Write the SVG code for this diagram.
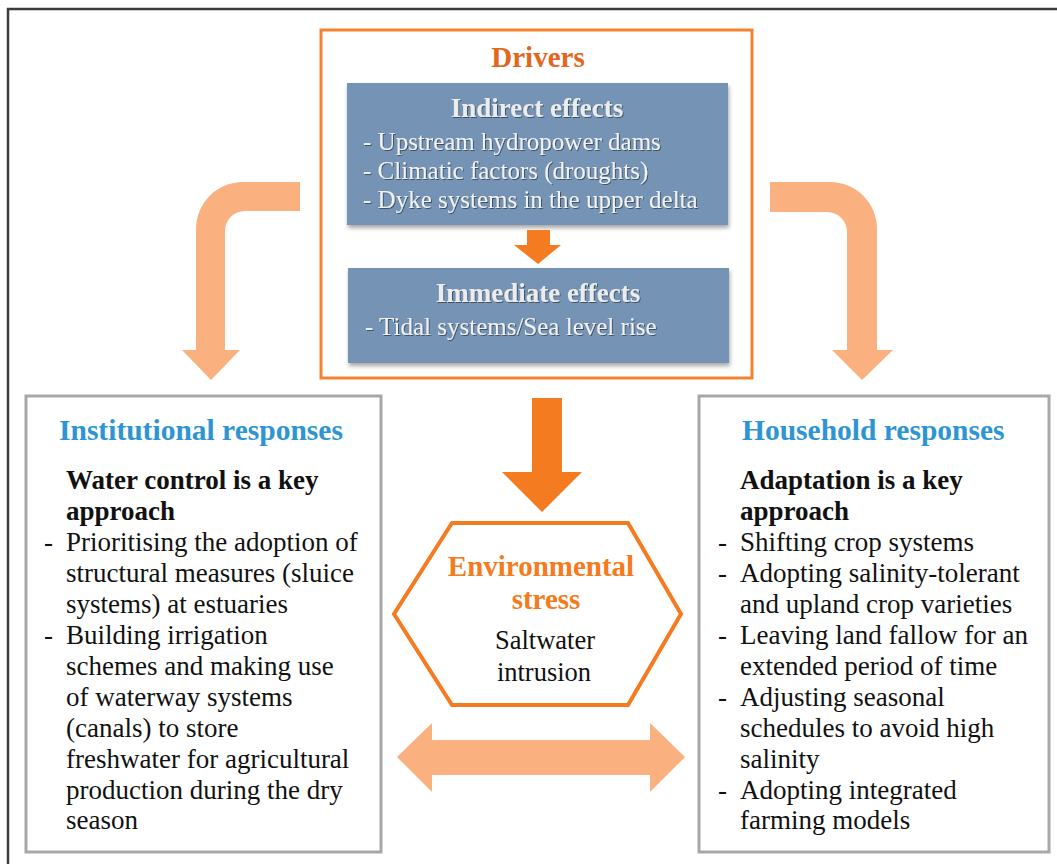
<svg xmlns="http://www.w3.org/2000/svg" width="1057" height="864" viewBox="0 0 1057 864">
  <defs>
    <filter id="boxShadow" x="-5%" y="-5%" width="112%" height="120%">
      <feDropShadow dx="1" dy="3" stdDeviation="2" flood-color="#000" flood-opacity="0.35"/>
    </filter>
    <filter id="textShadow" x="-5%" y="-20%" width="110%" height="150%">
      <feDropShadow dx="1" dy="1" stdDeviation="0.6" flood-color="#000" flood-opacity="0.45"/>
    </filter>
  </defs>
  <style>
    text { font-family: "Liberation Serif", "Times New Roman", serif; }
    .frame { fill: none; stroke: #3c3c3c; stroke-width: 2.5; }
    .drivers { fill: #ffffff; stroke: #f5822f; stroke-width: 3; }
    .effect { fill: #7594b5; filter: url(#boxShadow); }
    .effect-title { font-size: 27px; font-weight: bold; fill: #ececec; text-anchor: middle; filter: url(#textShadow); }
    .effect-item { font-size: 25px; fill: #f2f2f2; filter: url(#textShadow); }
    .drivers-title { font-size: 29px; font-weight: bold; fill: #e2661c; text-anchor: middle; }
    .panel { fill: #ffffff; stroke: #a8a8a8; stroke-width: 3; }
    .panel-title { font-size: 29.5px; font-weight: bold; fill: #2e95d3; }
    .lead { font-size: 27px; font-weight: bold; fill: #111111; }
    .item { font-size: 27px; fill: #111111; }
    .strong-arrow { fill: #f47b20; }
    .soft-arrow { fill: #fbb07f; }
    .stress { fill: #ffffff; stroke: #f47b20; stroke-width: 4; stroke-linejoin: miter; }
    .stress-title { font-size: 29px; font-weight: bold; fill: #f47b20; text-anchor: middle; }
    .stress-text { font-size: 26.5px; fill: #111111; text-anchor: middle; }
  </style>

  <rect width="1057" height="864" fill="#ffffff"/>
  <path class="frame" d="M8,864 V9 H1057"/>

  <!-- Drivers block -->
  <g id="drivers">
    <rect class="drivers" x="321" y="30" width="431" height="348"/>
    <text class="drivers-title" x="538" y="67">Drivers</text>
  </g>

  <g id="indirect-effects">
    <rect class="effect" x="347" y="83" width="381" height="142"/>
    <text class="effect-title" x="537" y="117">Indirect effects</text>
    <text class="effect-item" x="363" y="150">- Upstream hydropower dams</text>
    <text class="effect-item" x="363" y="179">- Climatic factors (droughts)</text>
    <text class="effect-item" x="363" y="208">- Dyke systems in the upper delta</text>
  </g>

  <g id="immediate-effects">
    <rect class="effect" x="348" y="268" width="381" height="95"/>
    <text class="effect-title" x="538" y="302">Immediate effects</text>
    <text class="effect-item" x="365" y="335">- Tidal systems/Sea level rise</text>
  </g>

  <!-- Institutional responses -->
  <g id="institutional-responses">
    <rect class="panel" x="26" y="396" width="355" height="456"/>
    <text class="panel-title" x="59" y="440">Institutional responses</text>
    <text class="lead" x="66" y="489">Water control is a key</text>
    <text class="lead" x="66" y="520">approach</text>
    <text class="item" x="44" y="551">-</text>
    <text class="item" x="66" y="551">Prioritising the adoption of</text>
    <text class="item" x="66" y="582">structural measures (sluice</text>
    <text class="item" x="66" y="613">systems) at estuaries</text>
    <text class="item" x="44" y="644">-</text>
    <text class="item" x="66" y="644">Building irrigation</text>
    <text class="item" x="66" y="675">schemes and making use</text>
    <text class="item" x="66" y="706">of waterway systems</text>
    <text class="item" x="66" y="737">(canals) to store</text>
    <text class="item" x="66" y="768">freshwater for agricultural</text>
    <text class="item" x="66" y="799">production during the dry</text>
    <text class="item" x="66" y="829">season</text>
  </g>

  <!-- Household responses -->
  <g id="household-responses">
    <rect class="panel" x="699" y="396" width="350" height="456"/>
    <text class="panel-title" x="742" y="440">Household responses</text>
    <text class="lead" x="740" y="489">Adaptation is a key</text>
    <text class="lead" x="740" y="520">approach</text>
    <text class="item" x="718" y="551">-</text>
    <text class="item" x="740" y="551">Shifting crop systems</text>
    <text class="item" x="718" y="582">-</text>
    <text class="item" x="740" y="582">Adopting salinity-tolerant</text>
    <text class="item" x="740" y="613">and upland crop varieties</text>
    <text class="item" x="718" y="644">-</text>
    <text class="item" x="740" y="644">Leaving land fallow for an</text>
    <text class="item" x="740" y="675">extended period of time</text>
    <text class="item" x="718" y="706">-</text>
    <text class="item" x="740" y="706">Adjusting seasonal</text>
    <text class="item" x="740" y="737">schedules to avoid high</text>
    <text class="item" x="740" y="768">salinity</text>
    <text class="item" x="718" y="799">-</text>
    <text class="item" x="740" y="799">Adopting integrated</text>
    <text class="item" x="740" y="829">farming models</text>
  </g>

  <!-- Environmental stress -->
  <g id="environmental-stress">
    <polygon class="stress" points="452,523 628,523 681,614 628,705 452,705 394,614"/>
    <text class="stress-title" x="541" y="576">Environmental</text>
    <text class="stress-title" x="546" y="609">stress</text>
    <text class="stress-text" x="545" y="649">Saltwater</text>
    <text class="stress-text" x="544" y="681">intrusion</text>
  </g>

  <!-- Connectors -->
  <g id="connectors">
    <!-- indirect to immediate -->
    <polygon class="strong-arrow" points="527,230 550,230 550,245 561,245 538,264 514,245 527,245"/>
    <!-- drivers to environmental stress -->
    <polygon class="strong-arrow" points="532,398 562,398 562,472 582,472 542,512 502,472 532,472"/>
    <!-- drivers to institutional responses -->
    <path class="soft-arrow" d="M300,182 H243 A47,47 0 0 0 196,229 V350 H182 L211,380 L240,350 H225 V231 A20,20 0 0 1 245,211 H300 Z"/>
    <!-- drivers to household responses -->
    <path class="soft-arrow" d="M770,182 H830 A47,47 0 0 1 877,229 V350 H893 L862,380 L832,350 H847 V232 A20,20 0 0 0 827,212 H770 Z"/>
    <!-- institutional and household responses -->
    <polygon class="soft-arrow" points="397,757 432,723 432,740 650,740 650,723 685,757 650,792 650,775 432,775 432,792"/>
  </g>
</svg>
